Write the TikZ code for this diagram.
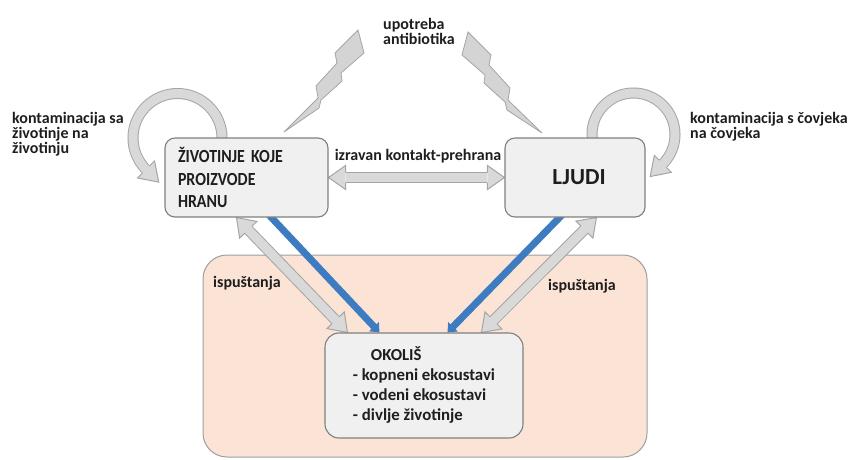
\documentclass[tikz,border=0pt]{standalone}
\usepackage{fontspec}
\setmainfont{Carlito}
\usetikzlibrary{calc,arrows.meta}
\definecolor{boxfill}{HTML}{F0F0F0}
\definecolor{boxline}{HTML}{7F7F7F}
\definecolor{pinkfill}{HTML}{FBE3D6}
\definecolor{pinkline}{HTML}{9E9E9E}
\definecolor{arrfill}{HTML}{D9D9D9}
\definecolor{arrline}{HTML}{A5A5A5}
\definecolor{boltfill}{HTML}{D4D4D4}
\definecolor{blueA}{HTML}{3D7CC0}
\definecolor{txt}{HTML}{1E1E1E}
\pgfdeclarelayer{bg}
\pgfsetlayers{bg,main}
\newcommand\hhead[2]{%
  \fill[arrfill] ($(#1)!5pt!90:(#2)$) -- ($(#1)!12pt!90:(#2)$) -- (#2) -- ($(#1)!12pt!-90:(#2)$) -- ($(#1)!5pt!-90:(#2)$) -- cycle;
  \draw[arrline, line width=1pt, line join=miter] ($(#1)!5pt!90:(#2)$) -- ($(#1)!12pt!90:(#2)$) -- (#2) -- ($(#1)!12pt!-90:(#2)$) -- ($(#1)!5pt!-90:(#2)$);
}
\newcommand\hdouble[2]{%
  \path ($(#1)!17pt!(#2)$) coordinate (hbA) ($(#2)!17pt!(#1)$) coordinate (hbB);
  \draw[hshaft] (hbA) -- (hbB);
  \hhead{hbA}{#1}\hhead{hbB}{#2}}
\tikzset{
  box/.style={draw=boxline, fill=boxfill, line width=1.1pt, rounded corners=10pt, text=txt},
  zone/.style={draw=pinkline, fill=pinkfill, line width=1pt, rounded corners=24pt},
  hshaft/.style={draw=arrline, line width=1pt, double=arrfill, double distance=9pt},
  bolt/.style={fill=boltfill, draw=arrline, line width=0.8pt, line join=miter},
  bluearr/.style={draw=blueA, line width=7pt, -{Triangle[length=8pt,width=13pt]}, shorten <=-4pt},
  lbl/.style={text=txt, font=\fontsize{16}{15}\selectfont\bfseries, inner sep=0pt, align=left}
}
\begin{document}
\begin{tikzpicture}[x=1pt,y=1pt]
\useasboundingbox (0,0) rectangle (848,-459);
% main boxes
\node[box, minimum width=163pt, minimum height=79pt, text width=137pt, inner xsep=13pt, align=left,
      font=\fontsize{18.5}{22.5}\selectfont\bfseries\addfontfeature{FakeStretch=0.86}] (animals) at (246.5,-177.5) {ŽIVOTINJE KOJE\\PROIZVODE\\HRANU};
\node[box, minimum width=140pt, minimum height=79pt, font=\fontsize{23}{27}\selectfont\bfseries] (people) at (575,-177.5) {\hspace*{8pt}LJUDI};
\node[box, rounded corners=14pt, minimum width=198pt, minimum height=105pt, align=left,
      font=\fontsize{16.8}{20}\selectfont\bfseries] (env) at (424,-385.5) {\hspace*{18pt}OKOLIŠ\\- kopneni ekosustavi\\- vodeni ekosustavi\\- divlje životinje};
% labels (base anchor = baseline of the last line)
\node[lbl, anchor=base west] (antib) at (383,-44) {upotreba\\antibiotika};
\node[lbl, anchor=base west] (lloop) at (12,-153) {kontaminacija sa\\životinje na\\životinju};
\node[lbl, anchor=base west] (rloop) at (690,-138) {kontaminacija s čovjeka\\na čovjeka};
\node[lbl, anchor=base] (direct) at (418,-160) {izravan kontakt-prehrana};
\node[lbl, anchor=base west] (relL) at (213,-287) {ispuštanja};
\node[lbl, anchor=base west] (relR) at (548,-290) {ispuštanja};
% connector end points
\coordinate (bl1) at ([xshift=107pt]animals.south west);
\coordinate (bl2) at ([xshift=55pt]env.north west);
\coordinate (gl1) at ([xshift=72pt]animals.south west);
\coordinate (gl2) at ([xshift=23pt]env.north west);
\coordinate (br1) at ([xshift=55pt]people.south west);
\coordinate (br2) at ([xshift=123pt]env.north west);
\coordinate (gr1) at ([xshift=92pt]people.south west);
\coordinate (gr2) at ([xshift=157pt]env.north west);
\begin{pgfonlayer}{bg}
  \node[zone, minimum width=444pt, minimum height=202pt] (zonebox) at (425,-356) {};
  % loops
  \draw[hshaft] (222,-147) -- (222,-138) arc[start angle=0, end angle=225, radius=44.5] coordinate (lle);
  \coordinate (llt) at ($(lle)+(12.7,-12.7)$);
  \hhead{lle}{llt}
  \draw[hshaft] (592,-147) -- (592,-134.5) arc[start angle=180, end angle=-45, radius=41.5] coordinate (rle);
  \coordinate (rlt) at ($(rle)+(-12.7,-12.7)$);
  \hhead{rle}{rlt}
  % lightning bolts
  \filldraw[bolt] (358,-30) -- (364,-53) -- (341,-73) -- (342,-81) -- (321,-100) -- (319,-108) -- (284,-132)
      -- (318,-98) -- (316,-86) -- (337,-63) -- (335,-53) -- cycle;
  \filldraw[bolt] (468,-32) -- (491,-55) -- (489,-65) -- (510,-88) -- (508,-100) -- (542,-133)
      -- (507,-110) -- (505,-102) -- (484,-83) -- (485,-75) -- (462,-55) -- cycle;
  % arrows
  \hdouble{animals.east}{people.west}
  \hdouble{gl1}{gl2}
  \hdouble{gr1}{gr2}
  \draw[bluearr] (bl1) -- (bl2);
  \draw[bluearr] (br1) -- (br2);
\end{pgfonlayer}
\end{tikzpicture}
\end{document}
